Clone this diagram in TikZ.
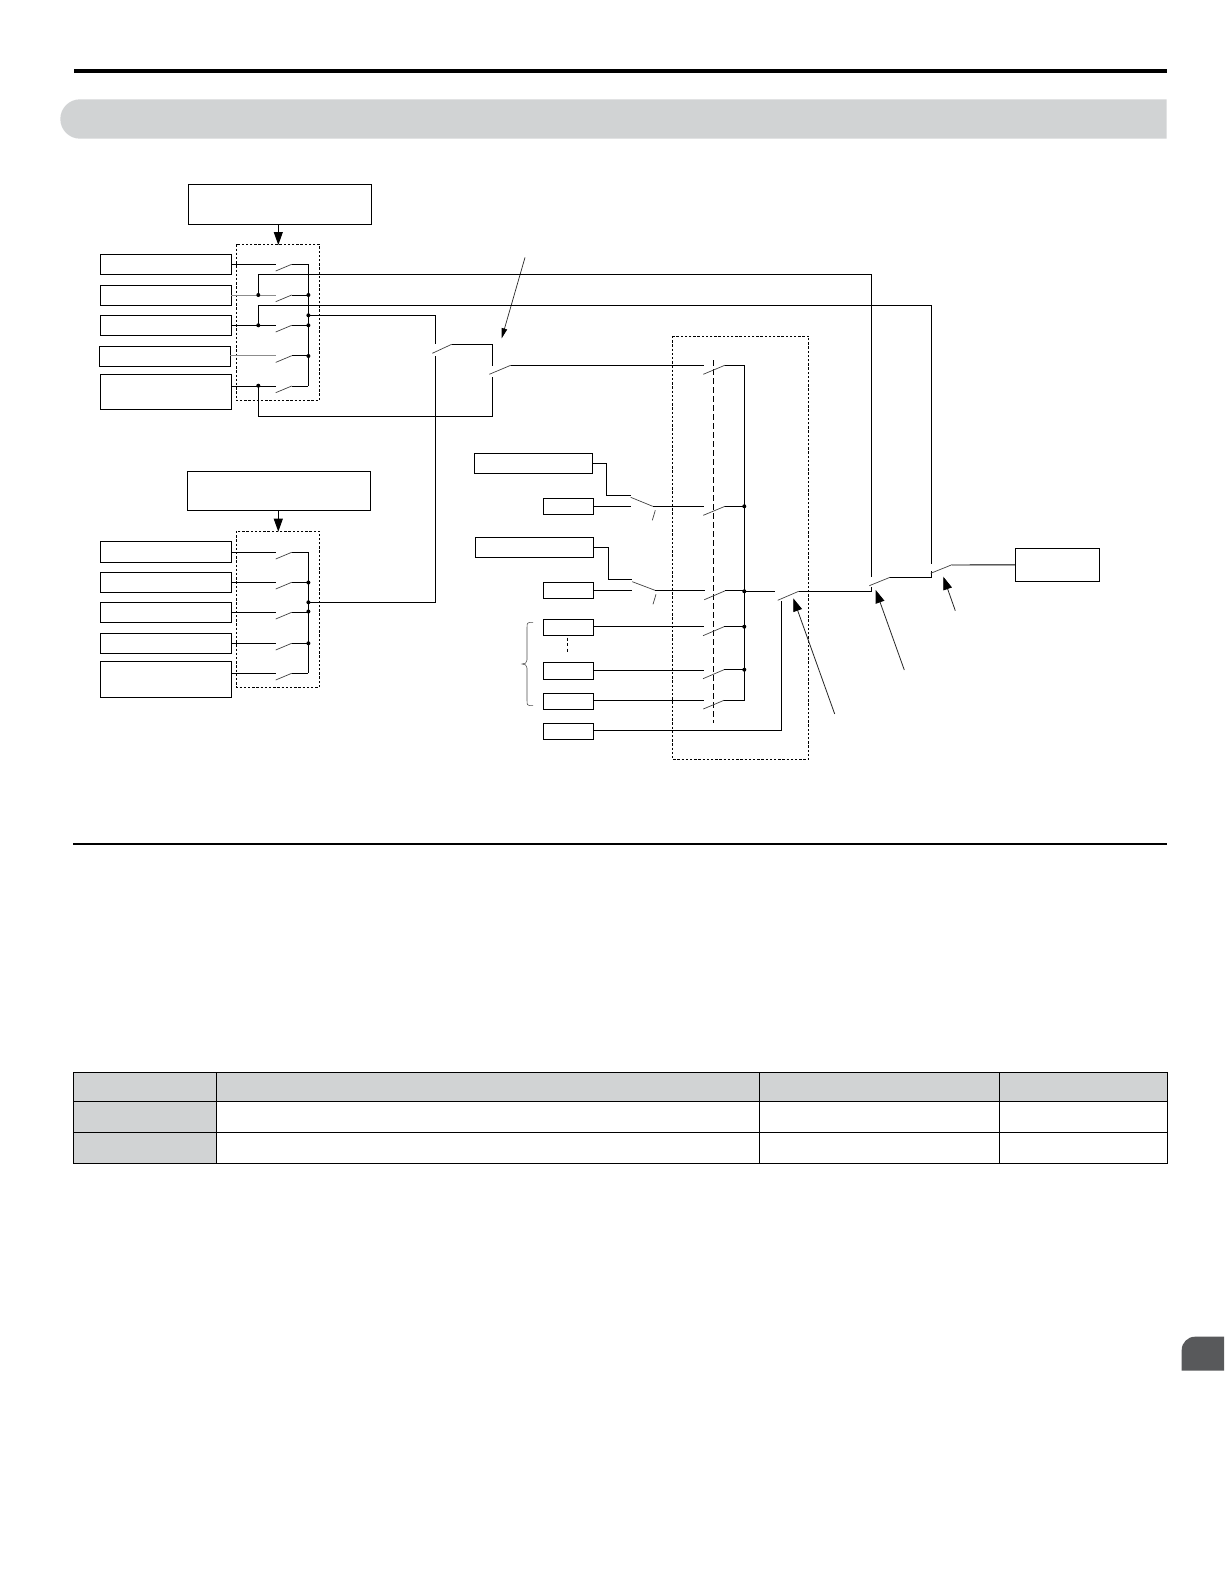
\documentclass[tikz,border=0pt]{standalone}
\usetikzlibrary{arrows.meta}
\definecolor{bandgray}{HTML}{D1D3D4}
\definecolor{tabgray}{HTML}{58595B}
\tikzset{
  wire/.style={draw=black,line width=0.9pt},
  palewire/.style={draw=black!45,line width=1pt},
  blade/.style={draw=black!75,line width=0.7pt},
  ibox/.style={draw=black,line width=0.95pt,fill=white,rectangle,inner sep=0pt,outer sep=0pt},
  dotbox/.style={draw=black,line width=0.85pt,dash pattern=on 2.4pt off 1.8pt},
  longdash/.style={draw=black,line width=0.8pt,dash pattern=on 6pt off 3pt},
  jdot/.style={circle,fill=black,inner sep=0pt,minimum size=4pt},
  bigarrow/.style={draw=black!85,line width=0.8pt,-{Triangle[length=13pt,width=9pt,color=black,fill=black]}},
  smallarrow/.style={draw=black!85,line width=0.7pt,-{Triangle[length=10pt,width=5.5pt,color=black,fill=black]}},
  fatarrow/.style={draw=black,line width=1pt,-{Triangle[length=13pt,width=9pt]}},
}
\newcommand{\swrow}[3]{% style, start coordinate, row y
  \draw[#1] (#2) -- (275.7,#3);
  \draw[blade] (275.7,#3+6.7) -- (291.7,#3);
  \draw[wire] (291.7,#3) -- (308.4,#3);
}
\newcommand{\bxat}[5]{\node[ibox,anchor=north west,minimum width=#3pt-#1pt,minimum height=#4pt-#2pt] (#5) at (#1,#2) {};}
\begin{document}
\begin{tikzpicture}[x=1pt,y=-1pt]
\useasboundingbox (0,0) rectangle (1224,1584);
% page furniture
\fill[black] (74,69) rectangle (1167,73);
\fill[bandgray] (1166.5,99.3) -- (80,99.3) arc[start angle=-90,end angle=-270,radius=19.7] -- (1166.5,138.7) -- cycle;
\fill[black] (73.3,842.7) rectangle (1167,844.7);
\fill[tabgray] (1224,1336.7) -- (1195,1336.7) arc[start angle=-90,end angle=-180,radius=13.3] -- (1181.7,1370.7) -- (1224,1370.7) -- cycle;
% table
\fill[bandgray] (73.7,1072.7) rectangle (1167.3,1101.3);
\fill[bandgray] (73.7,1101.3) rectangle (216.3,1163.3);
\draw[black,line width=1pt] (73.7,1072.7) rectangle (1167.3,1163.3);
\draw[black,line width=1pt] (73.7,1101.3) -- (1167.3,1101.3) (73.7,1132.3) -- (1167.3,1132.3);
\draw[black,line width=1pt] (216.3,1072.7) -- (216.3,1163.3) (759.3,1072.7) -- (759.3,1163.3) (999.3,1072.7) -- (999.3,1163.3);

% dotted frames
\draw[dotbox] (236.3,244.3) rectangle (319.3,400.3);
\draw[dotbox] (236.3,531) rectangle (319.3,687.3);
\draw[dotbox] (672.3,336) rectangle (808.7,759.3);
\draw[longdash] (713.3,360) -- (713.3,723.3);

% upper input group
\bxat{188.3}{184.3}{371.3}{224.3}{T1}
\bxat{100.3}{254.3}{231.3}{274.3}{A1}
\bxat{100.3}{285.3}{231.3}{305.3}{A2}
\bxat{100.3}{315.3}{231.3}{335.3}{A3}
\bxat{99.3}{346.3}{230.3}{366.3}{A4}
\bxat{100.3}{374.3}{231.3}{409.3}{A5}
\coordinate (ta2) at (278.3,245);
\draw[fatarrow] (ta2 |- T1.south) -- (ta2);
\coordinate (a1) at (231.3,264.3); \coordinate (a2) at (231.3,295); \coordinate (a3) at (231.3,325.3);
\coordinate (a4) at (230.3,355.7); \coordinate (a5) at (231.3,386);
\swrow{wire}{a1}{264.3}
\swrow{palewire}{a2}{295}
\swrow{wire}{a3}{325.3}
\swrow{palewire}{a4}{355.7}
\swrow{wire}{a5}{386}
\draw[wire] (308.4,264.3) -- (308.4,386);
\node[jdot] (u1) at (308.4,295) {};
\node[jdot] (u2) at (308.4,315.3) {};
\node[jdot] (u3) at (308.4,325.3) {};
\node[jdot] (u4) at (308.4,356) {};
\node[jdot] (v1) at (258.3,295) {};
\node[jdot] (v2) at (258.3,325.3) {};
\node[jdot] (v3) at (258.3,385.7) {};

% lower input group
\bxat{187.3}{471.3}{370.7}{510.3}{T2}
\bxat{100.3}{541.3}{231.3}{562.3}{B1}
\bxat{100.3}{572.3}{231.3}{592.3}{B2}
\bxat{100.3}{602.3}{231.3}{622.3}{B3}
\bxat{100.3}{633.3}{231.3}{653.3}{B4}
\bxat{100.3}{661.3}{231.3}{697.3}{B5}
\coordinate (tb2) at (278.3,531.7);
\draw[fatarrow] (tb2 |- T2.south) -- (tb2);
\coordinate (b1) at (231.3,552.3); \coordinate (b2) at (231.3,582.3); \coordinate (b3) at (231.3,612.3);
\coordinate (b4) at (231.3,643.3); \coordinate (b5) at (231.3,673.3);
\swrow{wire}{b1}{552.3}
\swrow{wire}{b2}{582.3}
\swrow{wire}{b3}{612.3}
\swrow{wire}{b4}{643.3}
\swrow{wire}{b5}{673.3}
\draw[wire] (308.4,552.3) -- (308.4,673.3);
\node[jdot] (w1) at (308.4,582.5) {};
\node[jdot] (w2) at (308.4,602.3) {};
\node[jdot] (w3) at (308.4,611.5) {};
\node[jdot] (w4) at (308.4,643.3) {};

% selector switches and long wires
\draw[wire] (u2.center) -- (435.7,315.3) -- (435.7,344);
\draw[wire] (w2.center) -- (435.7,602.3) -- (435.7,356);
\draw[blade] (432.3,353.3) -- (451.7,344.3);
\draw[wire] (451.7,344.3) -- (492.3,344.3) -- (492.3,365.7);
\draw[wire] (492.3,377.3) -- (492.3,416.3) -- (258.3,416.3) -- (v3.center);
\draw[blade] (489.3,374.3) -- (510.7,365.3);
\draw[wire] (510.7,365.2) -- (704,365.2);
\coordinate (n0) at (525,257.5); \coordinate (n1) at (501.7,338.3);
\draw[smallarrow] (n0) -- (n1);

\draw[wire] (v1.center) -- (258.3,274.3) -- (871.3,274.3) -- (871.3,576.7);
\draw[wire] (v2.center) -- (258.3,305.3) -- (931.7,305.3) -- (931.7,564);

% right group of inputs
\bxat{474.3}{453.3}{592.7}{473.3}{C1}
\bxat{543.3}{498.3}{593.7}{514.3}{C2}
\bxat{475.3}{537.3}{593.7}{557.3}{C3}
\bxat{543.3}{582.3}{593.7}{598.3}{C4}
\bxat{543.3}{619.3}{593.7}{635.3}{C5}
\bxat{543.3}{662.3}{593.7}{679.3}{C6}
\bxat{543.3}{693.3}{593.7}{709.3}{C7}
\bxat{543.3}{723.3}{593.7}{739.3}{C8}
% first pair
\draw[wire] (592.7,463.3) -- (606.3,463.3) -- (606.3,495.3) -- (630.7,495.3);
\draw[wire] (593.7,506.3) -- (630.7,506.3);
\draw[blade] (630.7,497.3) -- (652.7,506.3);
\draw[blade] (655.3,510.3) -- (652.3,520.3);
\draw[wire] (652.7,506.3) -- (704,506.3);
% second pair
\draw[wire] (593.7,547.3) -- (608.3,547.3) -- (608.3,579.3) -- (632.3,579.3);
\draw[wire] (593.7,590.3) -- (631.7,590.3);
\draw[blade] (632.3,581.7) -- (655,590.3);
\draw[blade] (656,594.3) -- (653,604.3);
\draw[wire] (655,590.3) -- (704.7,590.3);
% other wires
\draw[wire] (593.7,626.3) -- (703.7,626.3);
\draw[wire] (593.7,670.3) -- (703.7,670.3);
\draw[wire] (593.7,700.3) -- (703.7,700.3);
\draw[wire] (593.7,730.3) -- (781.7,730.3) -- (781.7,601.3);
\draw[wire,dash pattern=on 3pt off 2.5pt] (567.3,637.7) -- (567.3,652.3);
% gang blades
\draw[blade] (703.3,374.3) -- (725,365.2);
\draw[blade] (703.3,515.3) -- (725,506.3);
\draw[blade] (704.3,599.7) -- (725.3,590.7);
\draw[blade] (703,635.7) -- (724,626.7);
\draw[blade] (703,678.7) -- (724,669.7);
\draw[blade] (703.3,709) -- (724,700.3);
\draw[wire] (725,365.2) -- (744.3,365.2) -- (744.3,700.3) -- (724,700.3);
\draw[wire] (725,506.3) -- (744.3,506.3);
\draw[wire] (725.3,590.7) -- (744.3,590.7);
\draw[wire] (724,626.7) -- (744.3,626.7);
\draw[wire] (724,669.7) -- (744.3,669.7);
\node[jdot] (g1) at (744.3,506.3) {};
\node[jdot] (g2) at (744.3,591.3) {};
\node[jdot] (g3) at (744.3,626.7) {};
\node[jdot] (g4) at (744.3,669.7) {};
% brace
\draw[black!70,line width=0.55pt] (533,622.3) -- (529.5,622.3) .. controls (527,622.3) and (527,624) .. (527,627) -- (527,660) .. controls (527,663) and (525,664) .. (522,664) .. controls (525,664) and (527,665) .. (527,668) -- (527,701) .. controls (527,704) and (527,705.7) .. (529.5,705.7) -- (533,705.7);
% output chain
\draw[wire] (g2.center) -- (775,591.3);
\draw[blade] (777.7,600.3) -- (798.7,591.3);
\draw[wire] (798.7,591.3) -- (871.3,591.3) -- (871.3,587.3);
\draw[blade] (869.3,585.7) -- (890,577.3);
\draw[wire] (890,577.3) -- (931.7,577.3) -- (931.7,570.7);
\draw[blade] (930.7,573.3) -- (952,564.7);
\bxat{1015.3}{548.3}{1099.3}{581.3}{OUT}
\draw[wire] (952,565) -- (OUT.west);
\coordinate (p0) at (834.7,714); \coordinate (p1) at (793.3,598.3);
\coordinate (q0) at (904.3,670); \coordinate (q1) at (875.7,590);
\coordinate (r0) at (955.3,610.7); \coordinate (r1) at (943.3,576.7);
\draw[bigarrow] (p0) -- (p1);
\draw[bigarrow] (q0) -- (q1);
\draw[bigarrow] (r0) -- (r1);
\end{tikzpicture}
\end{document}
